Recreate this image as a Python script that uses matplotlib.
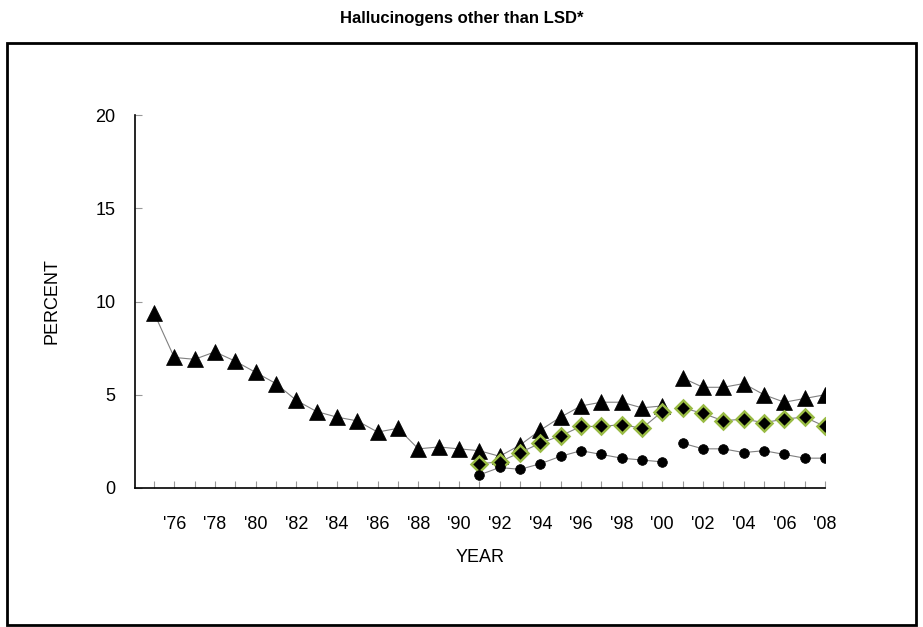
import matplotlib.pyplot as plt
import matplotlib.patches as patches
import numpy as np

plt.rcParams['font.family'] = ['Liberation Sans', 'DejaVu Sans']

# years on the category axis
years = list(range(1975, 2009))
year_labels = ["'%02d" % (y % 100) if y % 2 == 0 else '' for y in years]

# 12th grade (triangles), 1975-2008
grade12 = [9.4, 7.0, 6.9, 7.3, 6.8, 6.2, 5.6, 4.7, 4.1, 3.8, 3.6, 3.0, 3.2,
           2.1, 2.2, 2.1, 2.0, 1.7, 2.3, 3.1, 3.8, 4.4, 4.6, 4.6, 4.3, 4.4,
           5.9, 5.4, 5.4, 5.6, 5.0, 4.6, 4.8, 5.0]
# 10th grade (diamonds), 1991-2008
grade10 = [1.3, 1.4, 1.9, 2.4, 2.8, 3.3, 3.3, 3.4, 3.2, 4.1,
           4.3, 4.0, 3.6, 3.7, 3.5, 3.7, 3.8, 3.3]
# 8th grade (circles), 1991-2008
grade8 = [0.7, 1.1, 1.0, 1.3, 1.7, 2.0, 1.8, 1.6, 1.5, 1.4,
          2.4, 2.1, 2.1, 1.9, 2.0, 1.8, 1.6, 1.6]
years_mtf = list(range(1991, 2009))

fig = plt.figure(figsize=(9.23, 6.27), dpi=100)

# outer frame
fig.patches.append(patches.Rectangle((7/923, 1-625/627), 909/923, 582/627,
                                     transform=fig.transFigure, fill=False,
                                     edgecolor='black', linewidth=2))
fig.text(0.5, 1-18/627, 'Hallucinogens other than LSD*', ha='center', va='center',
         fontsize=12, fontweight='bold')

ax = fig.add_axes([135/923, 1-488/627, 690/923, 373/627])

line_kw = dict(color='#808080', linewidth=0.8)

def plot_split(x, y, marker, ms, mfc, mec, mew, z):
    # series break between 2000 and 2001 (questionnaire change)
    x = np.array(x)
    y = np.array(y)
    for m in (x <= 2000, x >= 2001):
        ax.plot(x[m], y[m], marker=marker, markersize=ms, markerfacecolor=mfc,
                markeredgecolor=mec, markeredgewidth=mew, zorder=z, **line_kw)

plot_split(years, grade12, '^', 11, 'black', 'black', 0.5, 3)
plot_split(years_mtf, grade10, 'D', 8.5, 'black', '#99bb44', 1.8, 4)
plot_split(years_mtf, grade8, 'o', 7, 'black', 'black', 0.5, 5)

ax.set_xlim(1974.07, 2008)
ax.set_ylim(0, 20)
ax.set_yticks([0, 5, 10, 15, 20])
ax.set_xticks(years)
ax.set_xticklabels(year_labels)
ax.tick_params(axis='both', direction='in', color='#999999', labelsize=13,
               length=5, width=0.8)
ax.tick_params(axis='x', pad=20)
ax.tick_params(axis='y', pad=14)
for s in ('top', 'right'):
    ax.spines[s].set_visible(False)
ax.spines['left'].set_linewidth(1.2)
ax.spines['bottom'].set_linewidth(1.2)

ax.set_xlabel('YEAR', fontsize=13, labelpad=12)
ax.set_ylabel('PERCENT', fontsize=13, labelpad=25)

fig.savefig('out.png', dpi=100)
